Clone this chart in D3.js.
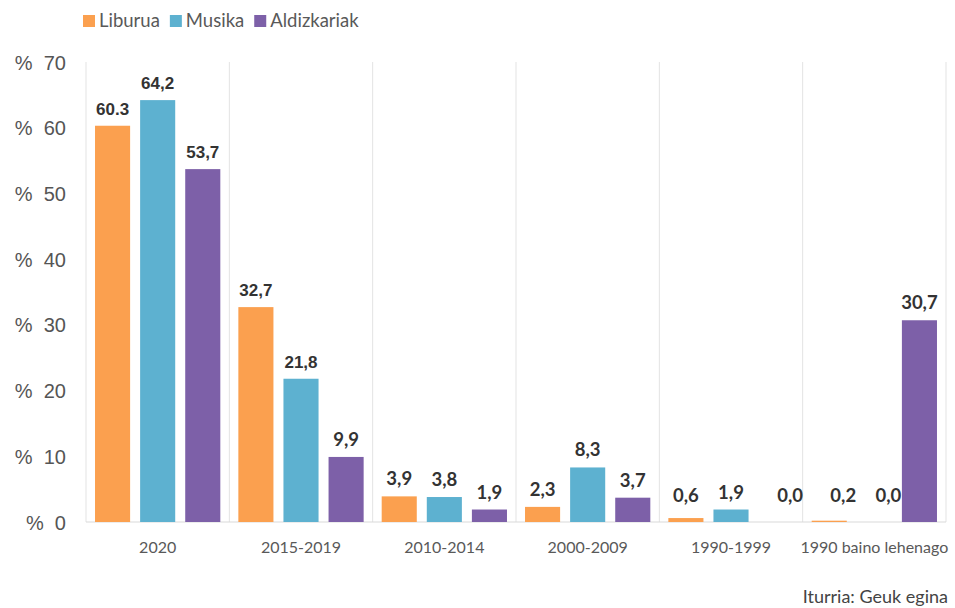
<!DOCTYPE html>
<html>
<head>
<meta charset="utf-8">
<script src="https://cdn.jsdelivr.net/npm/d3@7"></script>
<style>
  body { margin: 0; background: #fff; }
  svg { display: block; }
</style>
</head>
<body>
<script>
var categories = ["2020", "2015-2019", "2010-2014", "2000-2009", "1990-1999", "1990 baino lehenago"];
var seriesNames = ["Liburua", "Musika", "Aldizkariak"];
var liburua = [60.3, 32.7, 3.9, 2.3, 0.6, 0.2];
var musika = [64.2, 21.8, 3.8, 8.3, 1.9, 0.0];
var aldizkariak = [53.7, 9.9, 1.9, 3.7, 0.0, 30.7];
var valueLabels = [
    ["60.3", "32,7", "3,9", "2,3", "0,6", "0,2"],
    ["64,2", "21,8", "3,8", "8,3", "1,9", "0,0"],
    ["53,7", "9,9", "1,9", "3,7", "0,0", "30,7"]
];
var yTicks = [0, 10, 20, 30, 40, 50, 60, 70];
var colors = ["#FBA04F", "#5DB1D0", "#7D60A8"];

function init(){
    var w = 955;
    var h = 608;
    var left = 86, right = 946, top = 62, bottom = 522;

    var seriesValues = [liburua, musika, aldizkariak];

    var svg = d3.select("body")
                .append("svg")
                .attr("width", w)
                .attr("height", h);

    var x0 = d3.scaleBand()
               .domain(categories)
               .range([left, right])
               .padding(0);

    var x1 = d3.scaleBand()
               .domain(seriesNames)
               .range([0, x0.bandwidth()])
               .paddingInner(0.222)
               .paddingOuter(0.2);

    var yScale = d3.scaleLinear()
                   .domain([0, 70])
                   .range([bottom, top]);

    // vertical separators between categories
    var bounds = categories.map(function(c) { return x0(c); }).concat([right]);
    svg.append("g")
       .selectAll("line")
       .data(bounds)
       .enter()
       .append("line")
       .attr("x1", function(d) { return d; })
       .attr("x2", function(d) { return d; })
       .attr("y1", top)
       .attr("y2", bottom)
       .attr("stroke", "#e3e3e3")
       .attr("stroke-width", 1);

    // baseline
    svg.append("line")
       .attr("x1", left).attr("x2", right)
       .attr("y1", yScale(0)).attr("y2", yScale(0))
       .attr("stroke", "#d9d9d9")
       .attr("stroke-width", 1);

    // y axis
    var yAxis = d3.axisLeft(yScale)
                  .tickValues(yTicks)
                  .tickSize(0)
                  .tickFormat(function(d) { return "%\u00a0\u00a0" + d; });
    var yg = svg.append("g")
                .attr("transform", "translate(66,0)")
                .call(yAxis);
    yg.select(".domain").remove();
    yg.selectAll("text")
      .attr("x", 0)
      .attr("dy", "0.35em")
      .style("font-family", "'Liberation Sans', Arial, sans-serif")
      .style("font-size", "20px")
      .style("fill", "#555");

    // x axis
    var xAxis = d3.axisBottom(x0).tickSize(0);
    var xg = svg.append("g")
                .attr("transform", "translate(0," + bottom + ")")
                .call(xAxis);
    xg.select(".domain").remove();
    xg.selectAll("text")
      .attr("y", 31)
      .attr("dy", 0)
      .style("font-family", "Lato, 'Open Sans', sans-serif")
      .style("font-size", "16px")
      .style("fill", "#595959");

    // bars
    var groups = svg.selectAll("g.series")
                    .data(seriesNames)
                    .enter()
                    .append("g")
                    .attr("class", "series")
                    .style("fill", function(d, i) { return colors[i]; });

    groups.selectAll("rect")
          .data(function(d, i) {
              return seriesValues[i].map(function(v, j) {
                  return { key: d, cat: categories[j], value: v };
              });
          })
          .enter()
          .append("rect")
          .attr("x", function(d) { return x0(d.cat) + x1(d.key); })
          .attr("y", function(d) { return yScale(d.value); })
          .attr("width", x1.bandwidth())
          .attr("height", function(d) { return yScale(0) - yScale(d.value); });

    // value labels (near-empty bars get their label nudged right, like the original)
    groups.selectAll("text")
          .data(function(d, i) {
              return seriesValues[i].map(function(v, j) {
                  return { key: d, cat: categories[j], idx: j, value: v, label: valueLabels[i][j] };
              });
          })
          .enter()
          .append("text")
          .attr("x", function(d) {
              var cx = x0(d.cat) + x1(d.key) + x1.bandwidth() / 2;
              return d.value < 0.5 ? cx + 14 : cx;
          })
          .attr("y", function(d) { return Math.min(yScale(d.value) - 11, yScale(0) - 20); })
          .attr("text-anchor", "middle")
          .style("font-family", function(d) {
              return d.value > 20 && d.idx < 2 ? "'Liberation Sans', Arial, sans-serif" : "Lato, sans-serif";
          })
          .style("font-size", function(d) {
              return d.value > 20 && d.idx < 2 ? "17px" : "18.5px";
          })
          .style("font-weight", "bold")
          .style("fill", "#333")
          .text(function(d) { return d.label; });

    // legend, laid out from the measured text widths
    var legend = svg.append("g").attr("transform", "translate(83,15)");
    var lx = 0;
    seriesNames.forEach(function(name, i) {
        var item = legend.append("g").attr("transform", "translate(" + lx + ",0)");
        item.append("rect")
            .attr("width", 12)
            .attr("height", 12)
            .style("fill", colors[i]);
        var t = item.append("text")
                    .attr("x", 16)
                    .attr("y", 12)
                    .style("font-family", "Lato, 'Open Sans', sans-serif")
                    .style("font-size", "18.5px")
                    .style("fill", "#595959")
                    .text(name);
        lx += 16 + t.node().getComputedTextLength() + 10;
    });

    // source
    svg.append("text")
       .attr("x", 948)
       .attr("y", 603)
       .attr("text-anchor", "end")
       .style("font-family", "Lato, 'Open Sans', sans-serif")
       .style("font-size", "18px")
       .style("fill", "#444")
       .text("Iturria: Geuk egina");
}
window.onload = init;
</script>
</body>
</html>
